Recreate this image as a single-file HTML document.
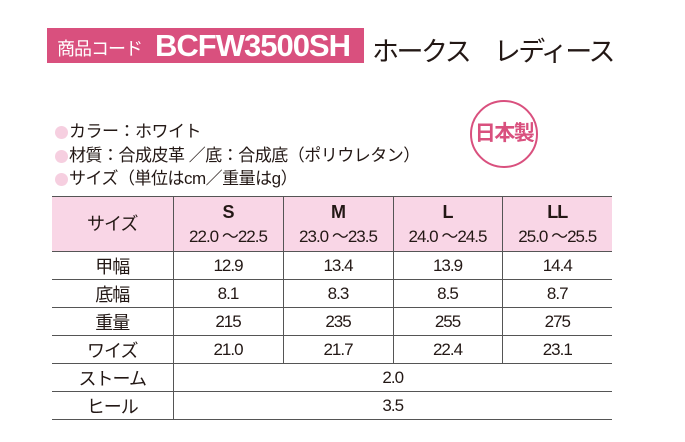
<!DOCTYPE html>
<html><head><meta charset="utf-8"><style>
body{margin:0;width:685px;height:442px;background:#fff;position:relative;overflow:hidden;font-family:"Liberation Sans","Noto Sans CJK JP",sans-serif;color:#231815}
.abs{position:absolute}
.banner{left:47px;top:28px;width:317px;height:35px;background:#d9507e;color:#fff}
.bl{position:absolute;left:55px;width:13px;height:13px;border-radius:50%;background:#f6cfe0}
.spec{position:absolute;left:69px;font-size:17px;line-height:20px;letter-spacing:-0.5px;white-space:nowrap}
table{position:absolute;left:52px;top:196px;border-collapse:collapse;table-layout:fixed;font-size:17px}
td{border-top:1.5px solid #555;border-bottom:1.5px solid #555;text-align:center;padding:0;height:27px;letter-spacing:-1px;white-space:nowrap}
td+td{border-left:1.5px solid #555}
tr.h td{background:#f9d6e6;height:54px;line-height:24px}
</style></head><body>
<div class="abs banner">
  <span class="abs" style="left:10px;top:7px;font-size:18px;letter-spacing:-1px;white-space:nowrap">商品コード</span>
  <span class="abs" style="left:108px;top:0px;font-size:31px;font-weight:bold;letter-spacing:-1px;white-space:nowrap">BCFW3500SH</span>
</div>
<div class="abs" style="left:372px;top:30px;font-size:27px;letter-spacing:-2.5px;white-space:nowrap">ホークス　レディース</div>
<div class="abs" style="left:470px;top:100px;width:64px;height:64px;border:2px solid #d9507e;border-radius:50%;color:#d9507e;font-size:21px;font-weight:bold;line-height:64px;text-align:center;letter-spacing:-1.5px;white-space:nowrap">日本製</div>
<div class="bl" style="top:126px"></div><div class="spec" style="top:122px">カラー：ホワイト</div>
<div class="bl" style="top:150px"></div><div class="spec" style="top:146px">材質：合成皮革 ／底：合成底（ポリウレタン）</div>
<div class="bl" style="top:173px"></div><div class="spec" style="top:169px">サイズ（単位はcm／重量はg）</div>
<table>
<colgroup><col style="width:121px"><col style="width:110px"><col style="width:110px"><col style="width:109px"><col style="width:110px"></colgroup>
<tr class="h"><td style="font-size:18px">サイズ</td><td><b style="font-size:18px">S</b><br>22.0 ～22.5</td><td><b style="font-size:18px">M</b><br>23.0 ～23.5</td><td><b style="font-size:18px">L</b><br>24.0 ～24.5</td><td><b style="font-size:18px">LL</b><br>25.0 ～25.5</td></tr>
<tr><td style="font-size:18px">甲幅</td><td>12.9</td><td>13.4</td><td>13.9</td><td>14.4</td></tr>
<tr><td style="font-size:18px">底幅</td><td>8.1</td><td>8.3</td><td>8.5</td><td>8.7</td></tr>
<tr><td style="font-size:18px">重量</td><td>215</td><td>235</td><td>255</td><td>275</td></tr>
<tr><td style="font-size:18px">ワイズ</td><td>21.0</td><td>21.7</td><td>22.4</td><td>23.1</td></tr>
<tr><td style="font-size:18px">ストーム</td><td colspan="4">2.0</td></tr>
<tr><td style="font-size:18px">ヒール</td><td colspan="4">3.5</td></tr>
</table>
</body></html>
